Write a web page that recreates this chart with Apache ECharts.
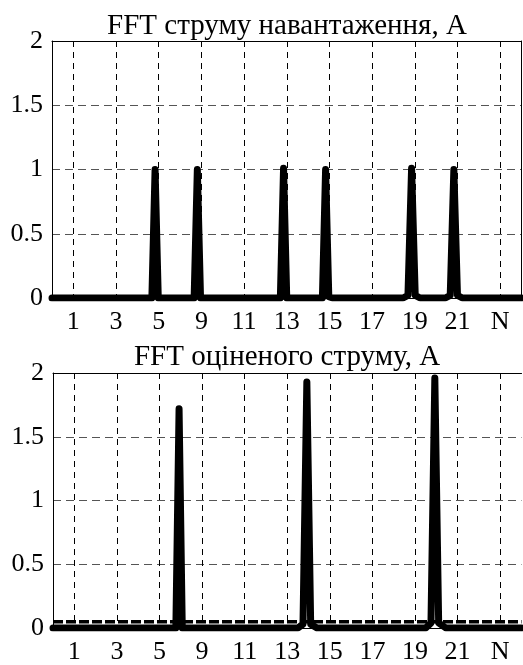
<!DOCTYPE html>
<html>
<head>
<meta charset="utf-8">
<script src="https://cdn.jsdelivr.net/npm/echarts@6/dist/echarts.min.js"></script>
<style>
  html, body { margin: 0; padding: 0; background: #fff; }
  #chart { width: 523px; height: 665px; }
</style>
</head>
<body>
<div id="chart"></div>
<script>
// tick labels (evenly spaced slots on the x axis)
const harmonicLabels = ["1", "3", "5", "9", "11", "13", "15", "17", "19", "21", "N"];

// load current spectrum trace (x in slot units 0..22)
const loadX = [0, 4.68, 4.83, 4.98, 6.66, 6.81, 6.96, 10.7, 10.85, 11.0, 12.67, 12.82, 12.97, 13.15,
  16.45, 16.68, 16.85, 17.02, 17.25, 18.43, 18.66, 18.83, 19.0, 19.23, 22];
const loadY = [0, 0, 1.0, 0, 0, 1.0, 0, 0, 1.01, 0, 0, 1.0, 0.01, 0,
  0, 0.02, 1.01, 0.02, 0, 0, 0.02, 1.0, 0.02, 0, 0];

// estimated current spectrum trace
const estX = [0, 5.77, 5.92, 6.07, 11.5, 11.74, 11.92, 12.1, 12.4, 17.5, 17.75, 17.93, 18.11, 18.45, 22];
const estY = [0, 0, 1.72, 0, 0, 0.03, 1.93, 0.03, 0, 0, 0.04, 1.96, 0.04, 0, 0];

// dashed threshold level in the lower plot
const estThreshold = 0.05;

const titles = ["FFT струму навантаження, A", "FFT оціненого струму, A"];

const font = "Liberation Serif";
const fontSize = 26;
const titleSize = 29;

function zip(xs, ys) {
  return xs.map((x, i) => [x, ys[i]]);
}

function makeAxes(gridIndex, boxRight) {
  return {
    xCat: {
      type: "category",
      gridIndex: gridIndex,
      data: harmonicLabels,
      boundaryGap: true,
      position: "bottom",
      axisLine: { show: true, lineStyle: { color: "#000", width: 1 } },
      axisTick: { show: false },
      axisLabel: { color: "#000", fontFamily: font, fontSize: fontSize, margin: 11, interval: 0 },
      splitLine: {
        show: true,
        alignWithLabel: true,
        lineStyle: { color: "#000", width: 1, type: [6, 5] },
      },
    },
    xVal: {
      type: "value",
      gridIndex: gridIndex,
      min: 0,
      max: 22,
      position: "top",
      axisLine: { show: true, onZero: false, lineStyle: { color: "#000", width: 1 } },
      axisTick: { show: false },
      axisLabel: { show: false },
      splitLine: { show: false },
    },
    y: {
      type: "value",
      gridIndex: gridIndex,
      min: 0,
      max: 2,
      interval: 0.5,
      axisLine: { show: true, lineStyle: { color: "#000", width: 1 } },
      axisTick: { show: false },
      axisLabel: { color: "#000", fontFamily: font, fontSize: fontSize, margin: 9 },
      splitLine: { show: true, lineStyle: { color: "#555", width: 1, type: [8, 5] } },
    },
    yRight: {
      type: "value",
      gridIndex: gridIndex,
      min: 0,
      max: 2,
      interval: 0.5,
      position: "right",
      show: boxRight,
      axisLine: { show: true, lineStyle: { color: "#000", width: 1 } },
      axisTick: { show: false },
      axisLabel: { show: false },
      splitLine: { show: false },
    },
  };
}

const a0 = makeAxes(0, true);
const a1 = makeAxes(1, false);

const traceStyle = { color: "#000", width: 7, join: "round", cap: "round" };

const option = {
  animation: false,
  backgroundColor: "#fff",
  grid: [
    { left: 52, top: 41, right: 1.5, height: 257 },
    { left: 53, top: 373, right: 1.5, height: 258 },
  ],
  xAxis: [a0.xCat, a0.xVal, a1.xCat, a1.xVal],
  yAxis: [a0.y, a0.yRight, a1.y, a1.yRight],
  graphic: [
    {
      type: "text", x: 287, y: 26,
      style: { text: titles[0], fill: "#000", font: titleSize + "px '" + font + "'", textAlign: "center", textVerticalAlign: "middle" },
    },
    {
      type: "text", x: 287, y: 357,
      style: { text: titles[1], fill: "#000", font: titleSize + "px '" + font + "'", textAlign: "center", textVerticalAlign: "middle" },
    },
  ],
  series: [
    {
      type: "line", xAxisIndex: 1, yAxisIndex: 0, data: zip(loadX, loadY),
      showSymbol: false, lineStyle: traceStyle, clip: true,
    },
    {
      type: "line", xAxisIndex: 3, yAxisIndex: 2, data: zip(estX, estY),
      showSymbol: false, lineStyle: traceStyle, clip: true,
    },
    {
      type: "line", xAxisIndex: 3, yAxisIndex: 2,
      data: [[0, estThreshold], [22, estThreshold]],
      showSymbol: false, lineStyle: { color: "#000", width: 3.5, type: [10, 3] },
    },
  ],
};

const chart = echarts.init(document.getElementById("chart"), null, { renderer: "canvas" });
chart.setOption(option);
</script>
</body>
</html>
